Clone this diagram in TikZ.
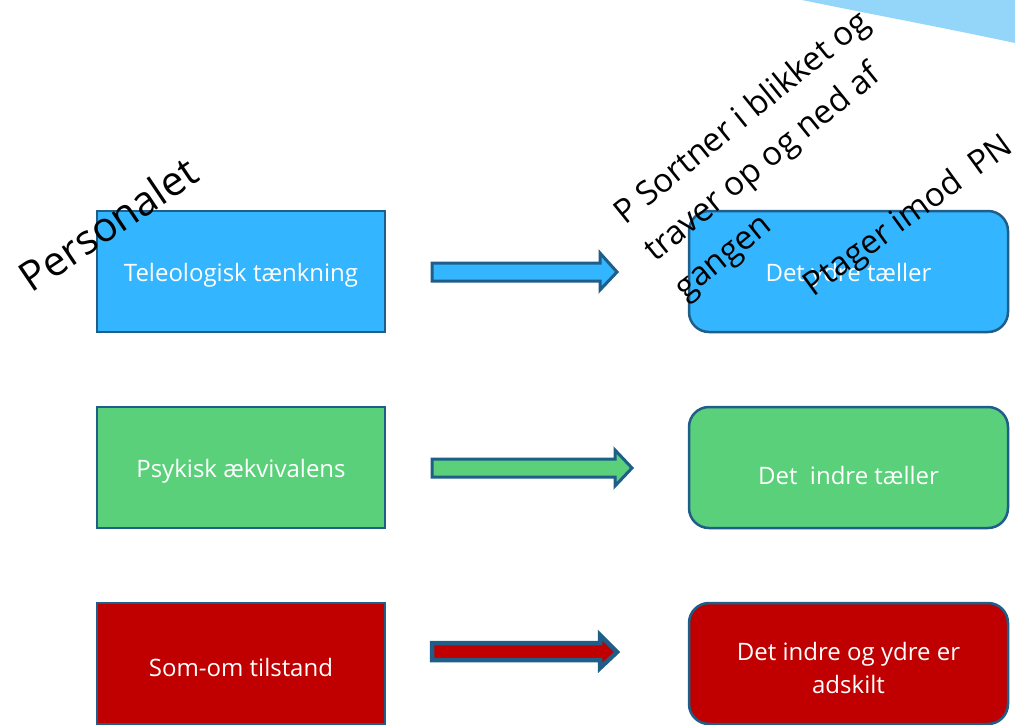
\documentclass[tikz,border=0pt]{standalone}
\usepackage{fontspec}
\setmainfont{Open Sans}
\definecolor{edgeblue}{HTML}{1E5E88}
\definecolor{boxblue}{HTML}{33B5FF}
\definecolor{boxgreen}{HTML}{5AD07A}
\definecolor{boxred}{HTML}{C00000}
\definecolor{swoosh}{HTML}{94D6FA}
\begin{document}
\begin{tikzpicture}[x=1pt,y=-1pt,
  lbl/.style={text=white,font=\fontsize{24}{33}\selectfont,align=center,inner sep=0pt},
  box/.style={draw=edgeblue,line width=2.5pt,minimum width=288pt,minimum height=121pt,
    inner sep=0pt,label={[lbl,yshift=-4pt]center:#1}},
  roundbox/.style={box=#1,rounded corners=20pt,minimum width=319pt},
  blockarrow/.style={draw=edgeblue,line width=3pt,line join=miter},
  note/.style={font=\fontsize{33}{48}\selectfont,align=left,inner sep=0pt}]
\useasboundingbox (0,0) rectangle (1015,724);
% light swoosh in the upper right corner
\fill[swoosh] (802,0) .. controls (870,14) and (945,28) .. (1015,43) -- (1015,0) -- cycle;

% left column
\node[box={Teleologisk tænkning},fill=boxblue] (tele) at (241,271.5) {};
\node[box={Psykisk ækvivalens},fill=boxgreen] (psyk) at (241,467.5) {};
\node[box={Som-om tilstand},fill=boxred] (somom) at (241,663.5) {};

% right column
\node[roundbox={Det ydre tæller},fill=boxblue] (ydre) at (848.5,271.5) {};
\node[roundbox={},fill=boxgreen] (indre) at (848.5,467.5) {};
\node[lbl,yshift=-8pt] (indrelbl) at (indre.center) {Det\ \ indre tæller};
\node[roundbox={Det indre og ydre er\\adskilt},fill=boxred] (adsk) at (848.5,663.5) {};

% block arrows between the columns
\draw[blockarrow,fill=boxblue] (432,263) -- (600,263) -- (600,253) -- (617,272) -- (600,290) -- (600,281) -- (432,281) -- cycle;
\draw[blockarrow,fill=boxgreen] (432,459) -- (615,459) -- (615,450) -- (632,468) -- (615,486) -- (615,477) -- (432,477) -- cycle;
\draw[blockarrow,line width=4.5pt,fill=boxred] (432,643) -- (600,643) -- (600,635) -- (617,652) -- (600,668) -- (600,660) -- (432,660) -- cycle;

% slanted annotations
\node[note,font=\fontsize{41}{48}\selectfont,rotate=34] (pers) at (108,224) {Personalet};
\node[note,rotate=39,anchor=north west] (sort) at (609,206) {P Sortner i blikket og\\traver op og ned af\\gangen};
\node[note,rotate=36] (ptag) at (909,217) {Ptager imod\ \ PN};
\end{tikzpicture}
\end{document}
